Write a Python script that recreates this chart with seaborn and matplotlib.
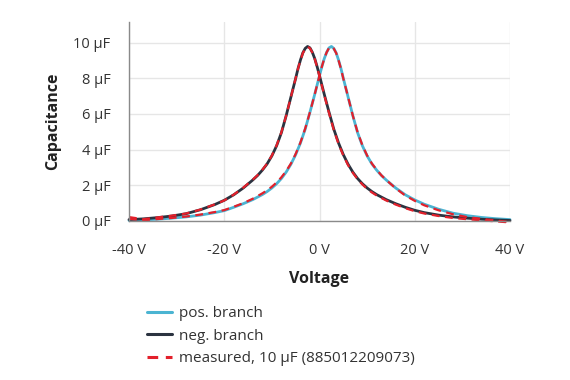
import numpy as np
import pandas as pd
import matplotlib
matplotlib.use("Agg")
import matplotlib.pyplot as plt
import seaborn as sns

# ---- data ----
neg_v = [-40, -37, -34, -31, -28, -25, -22, -20, -18, -16, -14, -13, -12, -11, -10, -9, -8, -7, -6, -5,
         -4.5, -4, -3.5, -3, -2.5, -2, -1.5, -1, -0.5, 0, 0.5, 1, 1.5, 2, 3, 4, 5, 6, 7, 8,
         9, 10, 11, 12, 14, 16, 18, 20, 22, 25, 28, 31, 34, 37, 40]
neg_c = [0.08, 0.12, 0.19, 0.28, 0.41, 0.63, 0.92, 1.16, 1.47, 1.85, 2.3, 2.55, 2.85, 3.2, 3.65,
         4.22, 4.95, 5.9, 6.95, 8.0, 8.55, 9.02, 9.42, 9.67, 9.78, 9.7, 9.45, 9.1, 8.65, 8.15,
         7.62, 7.1, 6.6, 6.1, 5.15, 4.37, 3.72, 3.18, 2.74, 2.38, 2.09, 1.85, 1.65, 1.48, 1.2,
         0.97, 0.77, 0.6, 0.47, 0.33, 0.23, 0.16, 0.1, 0.06, 0.03]
pos_v = [-40, -37, -34, -31, -28, -25, -22, -20, -18, -16, -14, -12, -11, -10, -9, -8, -7, -6, -5, -4,
         -3, -2, -1.5, -1, -0.5, 0, 0.5, 1, 1.5, 2, 2.5, 3, 3.5, 4, 4.5, 5, 6, 7, 8, 9,
         10, 11, 12, 13, 14, 16, 18, 20, 22, 25, 28, 31, 34, 37, 40]
pos_c = [0.03, 0.06, 0.1, 0.16, 0.23, 0.33, 0.47, 0.58, 0.77, 0.97, 1.2, 1.48, 1.65, 1.85, 2.09,
         2.38, 2.74, 3.18, 3.72, 4.37, 5.15, 6.1, 6.6, 7.1, 7.62, 8.15, 8.65, 9.1, 9.45, 9.7,
         9.78, 9.67, 9.42, 9.02, 8.55, 8.0, 6.95, 5.9, 4.95, 4.22, 3.65, 3.2, 2.85, 2.55, 2.3,
         1.85, 1.47, 1.18, 0.94, 0.66, 0.44, 0.3, 0.2, 0.13, 0.08]
meas_neg_c = [0.22, 0.1, 0.2, 0.3, 0.42, 0.64, 0.93, 1.15, 1.48, 1.87, 2.32, 2.57, 2.87, 3.22, 3.67,
              4.24, 4.97, 5.9, 6.95, 8.0, 8.54, 9.0, 9.4, 9.66, 9.76, 9.68, 9.43, 9.08, 8.62, 8.1,
              7.58, 7.05, 6.55, 6.05, 5.1, 4.32, 3.67, 3.13, 2.7, 2.34, 2.05, 1.8, 1.6, 1.43, 1.15,
              0.92, 0.72, 0.55, 0.42, 0.28, 0.17, 0.1, 0.04, -0.02, -0.08]
meas_pos_c = [0.12, 0.04, 0.11, 0.17, 0.25, 0.36, 0.5, 0.61, 0.8, 1.0, 1.25, 1.55, 1.72, 1.92, 2.16,
              2.45, 2.8, 3.22, 3.76, 4.4, 5.18, 6.1, 6.6, 7.1, 7.62, 8.15, 8.65, 9.1, 9.45, 9.7,
              9.77, 9.66, 9.41, 9.0, 8.54, 7.98, 6.95, 5.9, 4.97, 4.25, 3.67, 3.22, 2.87, 2.56, 2.3,
              1.83, 1.43, 1.13, 0.88, 0.6, 0.38, 0.22, 0.12, 0.03, -0.06]

x_ticks = [-40, -20, 0, 20, 40]
x_labels = ["-40 V", "-20 V", "0 V", "20 V", "40 V"]
y_ticks = [0, 2, 4, 6, 8, 10]
y_labels = ["0 µF", "2 µF", "4 µF", "6 µF", "8 µF", "10 µF"]

labels = ["pos. branch", "neg. branch", "measured, 10 µF (885012209073)"]
col_pos = "#4bb4d2"
col_neg = "#2b3340"
col_meas = "#e3202b"
txt = "#333333"

sns.set_style("white")
plt.rcParams["font.family"] = ["Open Sans", "DejaVu Sans"]

fig = plt.figure(figsize=(5.7, 3.8), dpi=100)
ax = fig.add_axes([129 / 570, 159 / 380, 381 / 570, 199 / 380])

df_pos = pd.DataFrame({"V": pos_v, "C": pos_c})
df_neg = pd.DataFrame({"V": neg_v, "C": neg_c})
df_mn = pd.DataFrame({"V": neg_v, "C": meas_neg_c})
df_mp = pd.DataFrame({"V": pos_v, "C": meas_pos_c})

sns.lineplot(data=df_pos, x="V", y="C", ax=ax, color=col_pos, lw=2.0, label=labels[0],
             estimator=None, sort=False)
sns.lineplot(data=df_neg, x="V", y="C", ax=ax, color=col_neg, lw=2.0, label=labels[1],
             estimator=None, sort=False)
sns.lineplot(data=df_mn, x="V", y="C", ax=ax, color=col_meas, lw=1.6,
             estimator=None, sort=False, label=labels[2])
sns.lineplot(data=df_mp, x="V", y="C", ax=ax, color=col_meas, lw=1.6,
             estimator=None, sort=False, label="_nolegend_")
for ln in ax.lines[2:]:
    ln.set_linestyle((0, (3.5, 2.5)))
for ln in ax.lines:
    ln.set_solid_joinstyle("round")
    ln.set_clip_on(False)

ax.set_xlim(-40, 40)
ax.set_ylim(0, 11.15)
ax.set_xticks(x_ticks)
ax.set_xticklabels(x_labels)
ax.set_yticks(y_ticks)
ax.set_yticklabels(y_labels)
ax.grid(True, color="#e6e6e6", lw=1.0)
ax.set_axisbelow(True)
for s in ["top", "right"]:
    ax.spines[s].set_visible(False)
for s in ["left", "bottom"]:
    ax.spines[s].set_color("#8a8a8a")
    ax.spines[s].set_linewidth(1.0)
ax.tick_params(axis="both", length=5.5, width=1, color="#8a8a8a", labelsize=10.5,
               labelcolor=txt, direction="out")
ax.tick_params(axis="x", pad=10)
ax.tick_params(axis="y", pad=8)
ax.set_xlabel("Voltage", fontsize=11.5, fontweight="bold", color="#222222", labelpad=10)
ax.set_ylabel("Capacitance", fontsize=11.5, fontweight="bold", color="#222222", labelpad=9)

leg = ax.legend(loc="upper left", bbox_to_anchor=(141 / 570, 1 - 300 / 380),
                bbox_transform=fig.transFigure, frameon=False, fontsize=11,
                handlelength=1.65, labelspacing=0.5, handletextpad=0.45, borderaxespad=0)
for t in leg.get_texts():
    t.set_color(txt)
for h in leg.get_lines():
    h.set_linewidth(2.2)

fig.savefig("out.png", dpi=100)
